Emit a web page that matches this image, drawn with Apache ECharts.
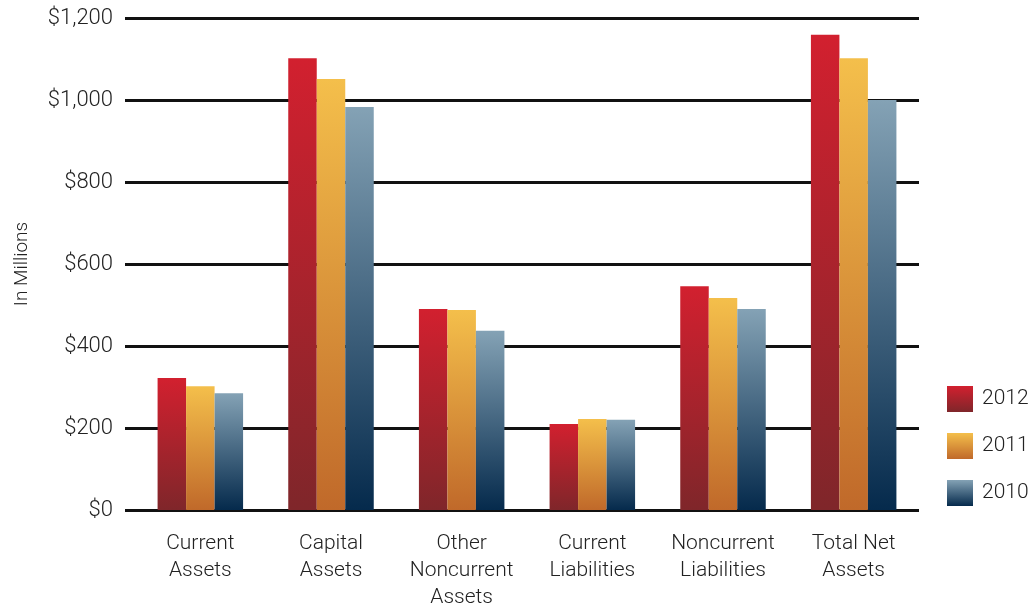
<!DOCTYPE html>
<html><head><meta charset="utf-8">
<script src="https://cdn.jsdelivr.net/npm/echarts@6/dist/echarts.min.js"></script>
<style>html,body{margin:0;padding:0;background:#fff}#c{width:1034px;height:604px}</style>
</head><body><div id="c"></div>
<script>
const categories = ['Current\nAssets', 'Capital\nAssets', 'Other\nNoncurrent\nAssets', 'Current\nLiabilities', 'Noncurrent\nLiabilities', 'Total Net\nAssets'];
const years = ['2012', '2011', '2010'];
const values2012 = [322, 1102, 490, 210, 546, 1159];
const values2011 = [302, 1051, 488, 222, 517, 1102];
const values2010 = [285, 983, 437, 220, 490, 1000];
const gradients = [['#d2202f', '#7f262a'], ['#f4bf4b', '#c0692a'], ['#84a2b5', '#052a4c']];
const font = 'Roboto, Liberation Sans, Arial, sans-serif';
const grad = (c) => ({type: 'linear', x: 0, y: 0, x2: 0, y2: 1, colorStops: [{offset: 0, color: c[0]}, {offset: 1, color: c[1]}]});
const data = [values2012, values2011, values2010];
const chart = echarts.init(document.getElementById('c'));
chart.setOption({
  animation: false,
  grid: {left: 135, right: 115, top: 18, bottom: 94, containLabel: false, outerBoundsMode: 'none'},
  legend: {
    orient: 'vertical', left: 942, top: 381, itemWidth: 26, itemHeight: 26, itemGap: 21,
    icon: 'rect', textStyle: {fontFamily: font, fontWeight: 300, fontSize: 21, color: '#222', padding: [0, 0, 0, 4]},
    data: years
  },
  xAxis: {
    type: 'category', data: categories,
    axisLine: {show: false}, axisTick: {show: false},
    axisLabel: {fontFamily: font, fontWeight: 300, fontSize: 21, color: '#222', lineHeight: 27, margin: 20, interval: 0}
  },
  yAxis: {
    type: 'value', min: 0, max: 1200, interval: 200,
    name: 'In Millions', nameLocation: 'middle', nameGap: 103, nameRotate: 90,
    nameTextStyle: {fontFamily: font, fontWeight: 300, fontSize: 19, color: '#222'},
    axisLine: {show: false},
    axisTick: {show: true, length: 10, lineStyle: {color: '#111', width: 3}},
    splitLine: {show: true, lineStyle: {color: '#111', width: 3}},
    axisLabel: {fontFamily: font, fontWeight: 300, fontSize: 22, color: '#222', margin: 22,
      formatter: v => '$' + v.toLocaleString('en-US')}
  },
  series: years.map((y, i) => ({
    name: y, type: 'bar', data: data[i], barWidth: 28.5, barGap: '0%',
    itemStyle: {color: grad(gradients[i])}
  }))
});
</script></body></html>
